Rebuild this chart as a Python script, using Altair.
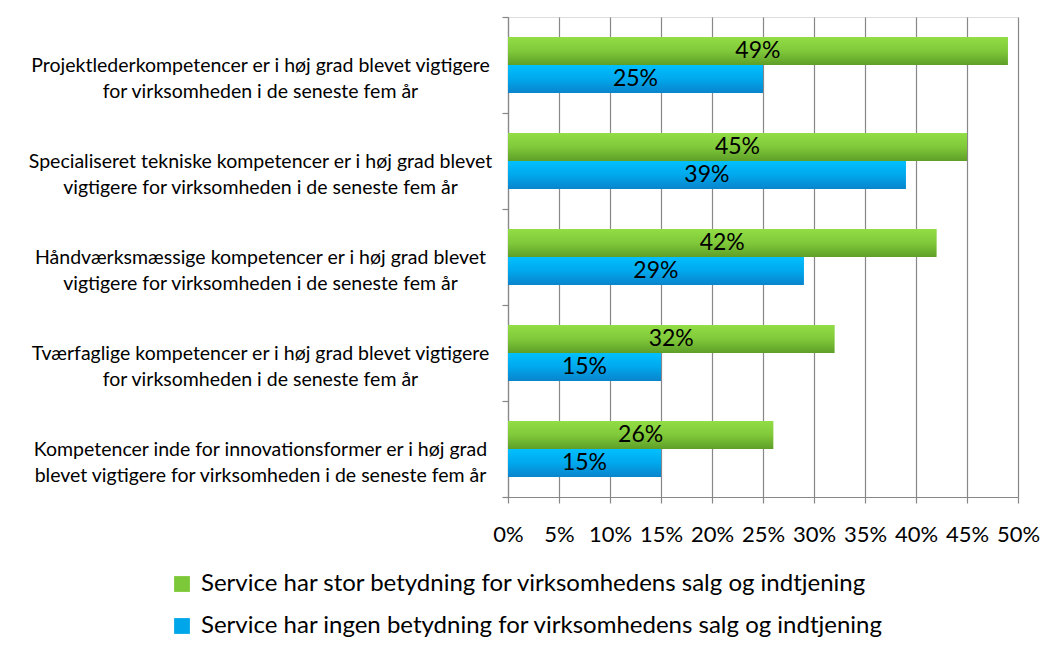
import altair as alt
import pandas as pd

categories = [
    "Projektlederkompetencer er i høj grad blevet vigtigere|for virksomheden i de seneste fem år",
    "Specialiseret tekniske kompetencer  er i høj grad blevet|vigtigere for virksomheden i de seneste fem år",
    "Håndværksmæssige kompetencer  er i høj grad blevet|vigtigere for virksomheden i de seneste fem år",
    "Tværfaglige kompetencer  er i høj grad blevet vigtigere|for virksomheden i de seneste fem år",
    "Kompetencer inde for innovationsformer er i høj grad|blevet vigtigere for virksomheden i de seneste fem år",
]
series = [
    "Service har stor betydning for virksomhedens salg og indtjening",
    "Service har ingen betydning for virksomhedens salg og indtjening",
]
stor_values = [49, 45, 42, 32, 26]
ingen_values = [25, 39, 29, 15, 15]
tick_values = [0, 5, 10, 15, 20, 25, 30, 35, 40, 45, 50]

rows = []
for c, v in zip(categories, stor_values):
    rows.append({"category": c, "series": series[0], "value": v})
for c, v in zip(categories, ingen_values):
    rows.append({"category": c, "series": series[1], "value": v})
df = pd.DataFrame(rows)

FONT = "Lato"
GRID = "#878787"

green_grad = alt.LinearGradient(
    gradient="linear", x1=0, y1=0, x2=0, y2=1,
    stops=[alt.GradientStop(offset=0, color="#92DE45"),
           alt.GradientStop(offset=0.5, color="#80C93A"),
           alt.GradientStop(offset=1, color="#5E9E28")],
)
blue_grad = alt.LinearGradient(
    gradient="linear", x1=0, y1=0, x2=0, y2=1,
    stops=[alt.GradientStop(offset=0, color="#00C0FF"),
           alt.GradientStop(offset=0.5, color="#00A8EC"),
           alt.GradientStop(offset=1, color="#0A84CC")],
)

x_enc = alt.X(
    "value:Q",
    scale=alt.Scale(domain=[0, 50], nice=False),
    axis=alt.Axis(
        values=tick_values, labelExpr="datum.value + '%'", title=None,
        grid=True, gridColor=GRID, gridWidth=1.2, domainColor=GRID, domainWidth=1.2,
        tickColor=GRID, tickSize=6, tickWidth=1.2,
        labelFont=FONT, labelFontSize=22, labelColor="#000000", labelPadding=21,
        labelFlush=False,
    ),
)
y_enc = alt.Y(
    "category:N", sort=categories,
    scale=alt.Scale(paddingInner=0, paddingOuter=0),
    axis=alt.Axis(
        title=None, labelExpr="split(datum.label, '|')", labelAlign="center",
        labelBaseline="middle", labelPadding=242, labelLimit=600,
        labelFont=FONT, labelFontSize=19.5, labelLineHeight=26, labelColor="#000000",
        domainColor=GRID, domainWidth=1.2, tickColor=GRID, tickSize=6, tickWidth=1.2,
        tickBand="extent", grid=False,
    ),
)
yoff_enc = alt.YOffset("series:N", sort=series,
                       scale=alt.Scale(paddingInner=0, paddingOuter=0.714))

base = alt.Chart(df)

bars = base.mark_bar(cornerRadius=0).encode(
    x=x_enc, y=y_enc, yOffset=yoff_enc,
    color=alt.Color(
        "series:N", sort=series,
        scale=alt.Scale(domain=series, range=["#7DC838", "#00A6EA"]),
        legend=alt.Legend(
            title=None, orient="none", legendX=-338, legendY=555, direction="vertical",
            symbolType="square", symbolSize=250, symbolStrokeWidth=0,
            labelFont=FONT, labelFontSize=24, labelColor="#000000", labelLimit=900,
            rowPadding=18, labelOffset=7, padding=0,
        ),
    ),
)
green_layer = base.transform_filter(alt.datum.series == series[0]).mark_bar(color=green_grad).encode(
    x="value:Q", y=alt.Y("category:N", sort=categories), yOffset=alt.YOffset("series:N", sort=series)
)
blue_layer = base.transform_filter(alt.datum.series == series[1]).mark_bar(color=blue_grad).encode(
    x="value:Q", y=alt.Y("category:N", sort=categories), yOffset=alt.YOffset("series:N", sort=series)
)
labels = base.transform_calculate(mid="datum.value / 2", txt="datum.value + '%'").mark_text(
    font=FONT, fontSize=23, color="#000000", align="center", baseline="middle"
).encode(
    x="mid:Q", y=alt.Y("category:N", sort=categories), yOffset=alt.YOffset("series:N", sort=series),
    text="txt:N",
)

chart = alt.layer(bars, green_layer, blue_layer, labels).properties(
    width=510, height=480,
    autosize=alt.AutoSizeParams(type="none"),
    padding={"left": 500, "top": 9, "right": 22, "bottom": 143},
).configure_view(stroke=None).configure(background="#FFFFFF")

chart.save("out.html", embed_options={"renderer": "svg", "actions": False})
